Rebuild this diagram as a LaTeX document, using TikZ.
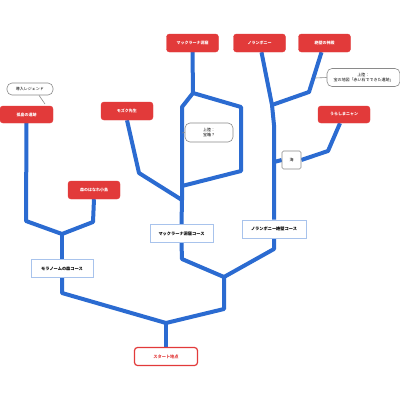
\documentclass[tikz,border=0pt]{standalone}
\usepackage{fontspec}
\newfontfamily\jp{Noto Sans CJK JP}
\usetikzlibrary{calc,backgrounds}
\definecolor{rd}{HTML}{E23A3A}
\definecolor{bl}{HTML}{2B6BD1}
\definecolor{lbl}{HTML}{A8C3EC}
\definecolor{gr}{HTML}{8A8A8A}
\tikzset{
  redbox/.style={fill=rd, draw=rd, rounded corners=3pt, text=white,
    font=\jp\bfseries\fontsize{4}{5}\selectfont, minimum width=52pt, minimum height=17pt, inner sep=0pt},
  coursebox/.style={fill=white, draw=lbl, line width=0.8pt,
    font=\jp\bfseries\fontsize{4.2}{5}\selectfont, minimum width=63pt, minimum height=18.5pt, inner sep=0pt},
  notebox/.style={fill=white, draw=gr, line width=0.6pt, rounded corners=5pt, align=center,
    font=\jp\fontsize{4}{5}\selectfont, inner sep=0pt},
  startbox/.style={fill=white, draw=rd, line width=1.2pt, rounded corners=3pt, text=rd,
    font=\jp\bfseries\fontsize{4.2}{5}\selectfont, minimum width=63pt, minimum height=18pt, inner sep=0pt},
  branch/.style={draw=bl, line width=4pt, line join=round},
  tail/.style={draw=gr, line width=0.6pt}
}
\begin{document}
\begin{tikzpicture}[x=1pt,y=-1pt]
\useasboundingbox (0,0) rectangle (400,400);
% nodes
\node[notebox, minimum width=46pt, minimum height=12pt] (legend) at (30,89) {導入レジェンド};
\node[redbox, minimum width=53pt] (koto) at (26.5,114.5) {孤島の遺跡};
\node[redbox, minimum height=18pt] (mozuku) at (127,111) {モズク先生};
\node[redbox, minimum height=18pt] (makku) at (192.5,43) {マックラーナ洞窟};
\node[redbox, minimum height=18pt] (noran) at (259.5,43) {ノランボニー};
\node[redbox, minimum height=18pt] (zeppeki) at (324.5,43) {絶壁の神殿};
\node[notebox, minimum width=73pt, minimum height=18pt] (note2) at (363.5,77.5) {上陸：\\宝の地図「赤い石でできた遺跡」};
\node[redbox] (urashima) at (344,114.5) {うらしまニャン};
\node[notebox, rounded corners=1.5pt, minimum width=19pt, minimum height=18pt] (umi) at (291.5,160) {海};
\node[notebox, minimum width=48pt, minimum height=19pt] (note1) at (209,132.5) {上陸：\\宝箱？};
\node[redbox, minimum height=18pt] (mori) at (94,190) {森のはなれ小島};
\node[coursebox, minimum width=62pt] (moranome) at (62,268.5) {モラノームの森コース};
\node[coursebox] (makkucourse) at (181.5,233.5) {マックラーナ洞窟コース};
\node[coursebox, minimum width=64pt, minimum height=18pt] (norancourse) at (274,229) {ノランボニー絶壁コース};
\node[startbox] (start) at (166,356.5) {スタート地点};
% junctions
\coordinate (j0) at (166,323);
\coordinate (jL) at (62,293);
\coordinate (jR) at (224,309);
\coordinate (jR2) at (224,277);
\coordinate (jM) at (182,259);
\coordinate (jN) at (274,249);
\coordinate (jA) at (62,234);
\coordinate (jA1) at (26,221);
\coordinate (jA2) at (93,222);
\coordinate (jB) at (182,200);
\coordinate (jB1) at (139,173);
\coordinate (jB2) at (182,186);
\coordinate (jB3) at (241,171);
\coordinate (jB4) at (241,107);
\coordinate (jB5) at (193,93);
\coordinate (jB6) at (182,107);
\coordinate (jC) at (274,125);
\coordinate (jC1) at (272,105);
\coordinate (jC2) at (309,92);
\coordinate (jD) at (328,151);
\coordinate (jE) at (274,162);
\coordinate (t1) at (182,133);
\coordinate (t2) at (315,78);
\coordinate (t3) at (45,104);
\begin{scope}[on background layer]
\fill[white] (0,0) rectangle (400,400);
\draw[branch] (start.north) -- (j0);
\draw[branch] (j0) -- (jL) -- (moranome.south);
\draw[branch] (j0) -- (jR) -- (jR2);
\draw[branch] (jR2) -- (jM) -- (makkucourse.south);
\draw[branch] (jR2) -- (jN) -- (norancourse.south);
\draw[branch] (moranome.north) -- (jA);
\draw[branch] (jA) -- (jA1) -- (koto.south);
\draw[branch] (jA) -- (jA2) -- (mori.south);
\draw[branch] (makkucourse.north) -- (jB);
\draw[branch] (jB) -- (jB1) -- (mozuku.south);
\draw[branch] (jB) -- (jB2) -- (jB6) -- (jB5) -- (makku.south);
\draw[branch] (jB2) -- (jB3) -- (jB4) -- (jB5);
\draw[branch] (norancourse.north) -- (jC) -- (jC1) -- ($(noran.south)+(2,0)$);
\draw[branch] (jC1) -- (jC2) -- ($(zeppeki.south)+(-3,0)$);
\draw[branch] (umi.west) -- (jE);
\draw[branch] (umi.east) -- (jD) -- ($(urashima.south)+(-4,0)$);
\draw[tail] (note1.west) -- (t1);
\draw[tail] (note2.west) -- (t2);
\draw[tail] ($(legend.south)+(9,0)$) -- (t3);
\end{scope}
\end{tikzpicture}
\end{document}
